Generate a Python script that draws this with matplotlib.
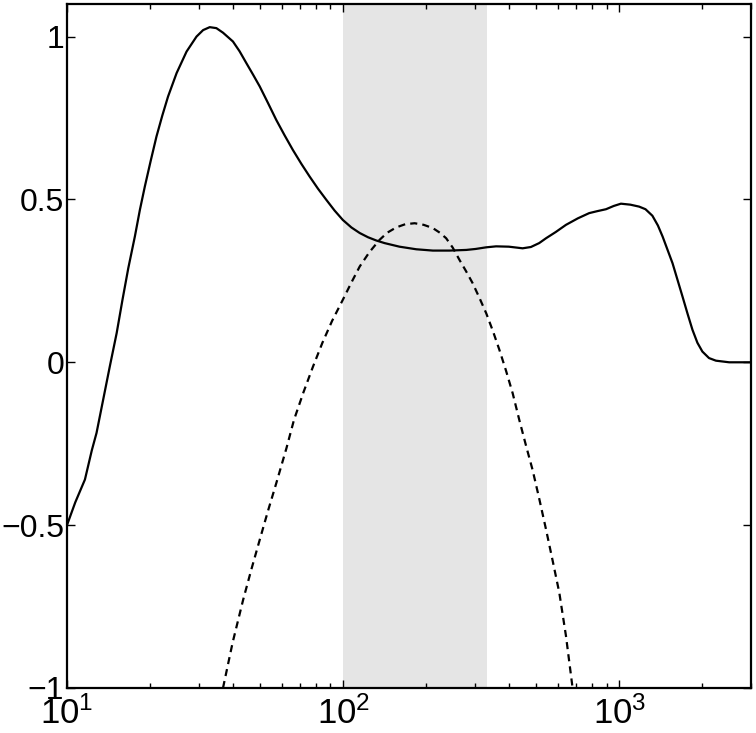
import numpy as np
import matplotlib
matplotlib.use("Agg")
import matplotlib.pyplot as plt

# solid curve (x given as log10 of the frequency)
log_freq_solid = [1.000, 1.030, 1.065, 1.090, 1.107, 1.131, 1.155, 1.180, 1.201,
                  1.222, 1.246, 1.264, 1.282, 1.303, 1.324, 1.345, 1.366, 1.397,
                  1.433, 1.469, 1.493, 1.517, 1.541, 1.565, 1.601, 1.625, 1.650,
                  1.674, 1.698, 1.728, 1.758, 1.788, 1.818, 1.849, 1.879, 1.909,
                  1.939, 1.969, 1.999, 2.030, 2.060, 2.090, 2.120, 2.150, 2.204,
                  2.265, 2.325, 2.385, 2.446, 2.480, 2.518, 2.554, 2.600, 2.650,
                  2.680, 2.710, 2.735, 2.770, 2.807, 2.850, 2.891, 2.920, 2.952,
                  2.980, 3.006, 3.040, 3.072, 3.095, 3.120, 3.140, 3.157, 3.175,
                  3.193, 3.211, 3.229, 3.247, 3.265, 3.283, 3.301, 3.325, 3.350,
                  3.398, 3.477]
val_solid = [-0.50, -0.43, -0.36, -0.27, -0.217, -0.115, -0.013, 0.090, 0.192,
             0.289, 0.387, 0.468, 0.540, 0.618, 0.693, 0.757, 0.816, 0.888,
             0.954, 1.000, 1.020, 1.029, 1.026, 1.012, 0.985, 0.955, 0.918,
             0.883, 0.847, 0.796, 0.744, 0.697, 0.652, 0.609, 0.570, 0.533,
             0.499, 0.466, 0.437, 0.414, 0.397, 0.384, 0.374, 0.366, 0.355,
             0.347, 0.343, 0.343, 0.345, 0.348, 0.353, 0.356, 0.355, 0.350,
             0.354, 0.366, 0.381, 0.400, 0.422, 0.442, 0.458, 0.464, 0.470,
             0.480, 0.487, 0.484, 0.478, 0.470, 0.450, 0.420, 0.386, 0.345,
             0.304, 0.253, 0.202, 0.150, 0.100, 0.060, 0.033, 0.013, 0.005,
             0.0, 0.0]

# dashed curve
log_freq_dash = [1.565, 1.600, 1.638, 1.668, 1.698, 1.728, 1.758, 1.795, 1.822,
                 1.856, 1.891, 1.925, 1.960, 1.999, 2.030, 2.060, 2.095, 2.132,
                 2.160, 2.192, 2.225, 2.259, 2.292, 2.325, 2.350, 2.373, 2.397,
                 2.421, 2.445, 2.469, 2.493, 2.518, 2.542, 2.566, 2.590, 2.614,
                 2.638, 2.663, 2.686, 2.710, 2.735, 2.759, 2.783, 2.807, 2.831]
val_dash = [-1.0, -0.86, -0.729, -0.635, -0.545, -0.456, -0.371, -0.263, -0.177,
            -0.093, -0.013, 0.060, 0.127, 0.192, 0.245, 0.294, 0.338, 0.376,
            0.398, 0.414, 0.424, 0.427, 0.422, 0.412, 0.398, 0.381, 0.352,
            0.315, 0.280, 0.243, 0.199, 0.151, 0.097, 0.038, -0.026, -0.095,
            -0.177, -0.258, -0.330, -0.418, -0.514, -0.610, -0.708, -0.84, -1.0]

band = (100, 333)
ytick_vals = [-1, -0.5, 0, 0.5, 1]
ytick_labels = ['\u22121', '\u22120.5', '0', '0.5', '1']

plt.rcParams['font.family'] = ['Liberation Sans', 'DejaVu Sans']
plt.rcParams['mathtext.fontset'] = 'custom'
plt.rcParams['mathtext.rm'] = 'Liberation Sans'
plt.rcParams['mathtext.it'] = 'Liberation Sans'

fig = plt.figure(figsize=(7.56, 7.33), dpi=100)
ax = fig.add_axes([0.0886, 0.0614, 0.9048, 0.9331])

ax.axvspan(band[0], band[1], color='#e5e5e5', lw=0, zorder=0)
ax.plot(np.power(10.0, log_freq_solid), val_solid, color='black', lw=1.6)
ax.plot(np.power(10.0, log_freq_dash), val_dash, color='black', lw=1.6,
        ls=(0, (3.2, 2.3)))

ax.set_xscale('log')
ax.set_xlim(10, 3000)
ax.set_ylim(-1, 1.1)
ax.set_yticks(ytick_vals)
ax.set_yticklabels(ytick_labels)

for s in ax.spines.values():
    s.set_linewidth(1.6)
ax.tick_params(which='both', direction='in', top=True, right=True)
ax.tick_params(which='major', length=6, width=1.0)
ax.tick_params(which='minor', length=3.5, width=1.0)
ax.tick_params(axis='x', pad=6, labelsize=25)
ax.tick_params(axis='y', pad=2, labelsize=23)

fig.savefig('out.png', dpi=100)
